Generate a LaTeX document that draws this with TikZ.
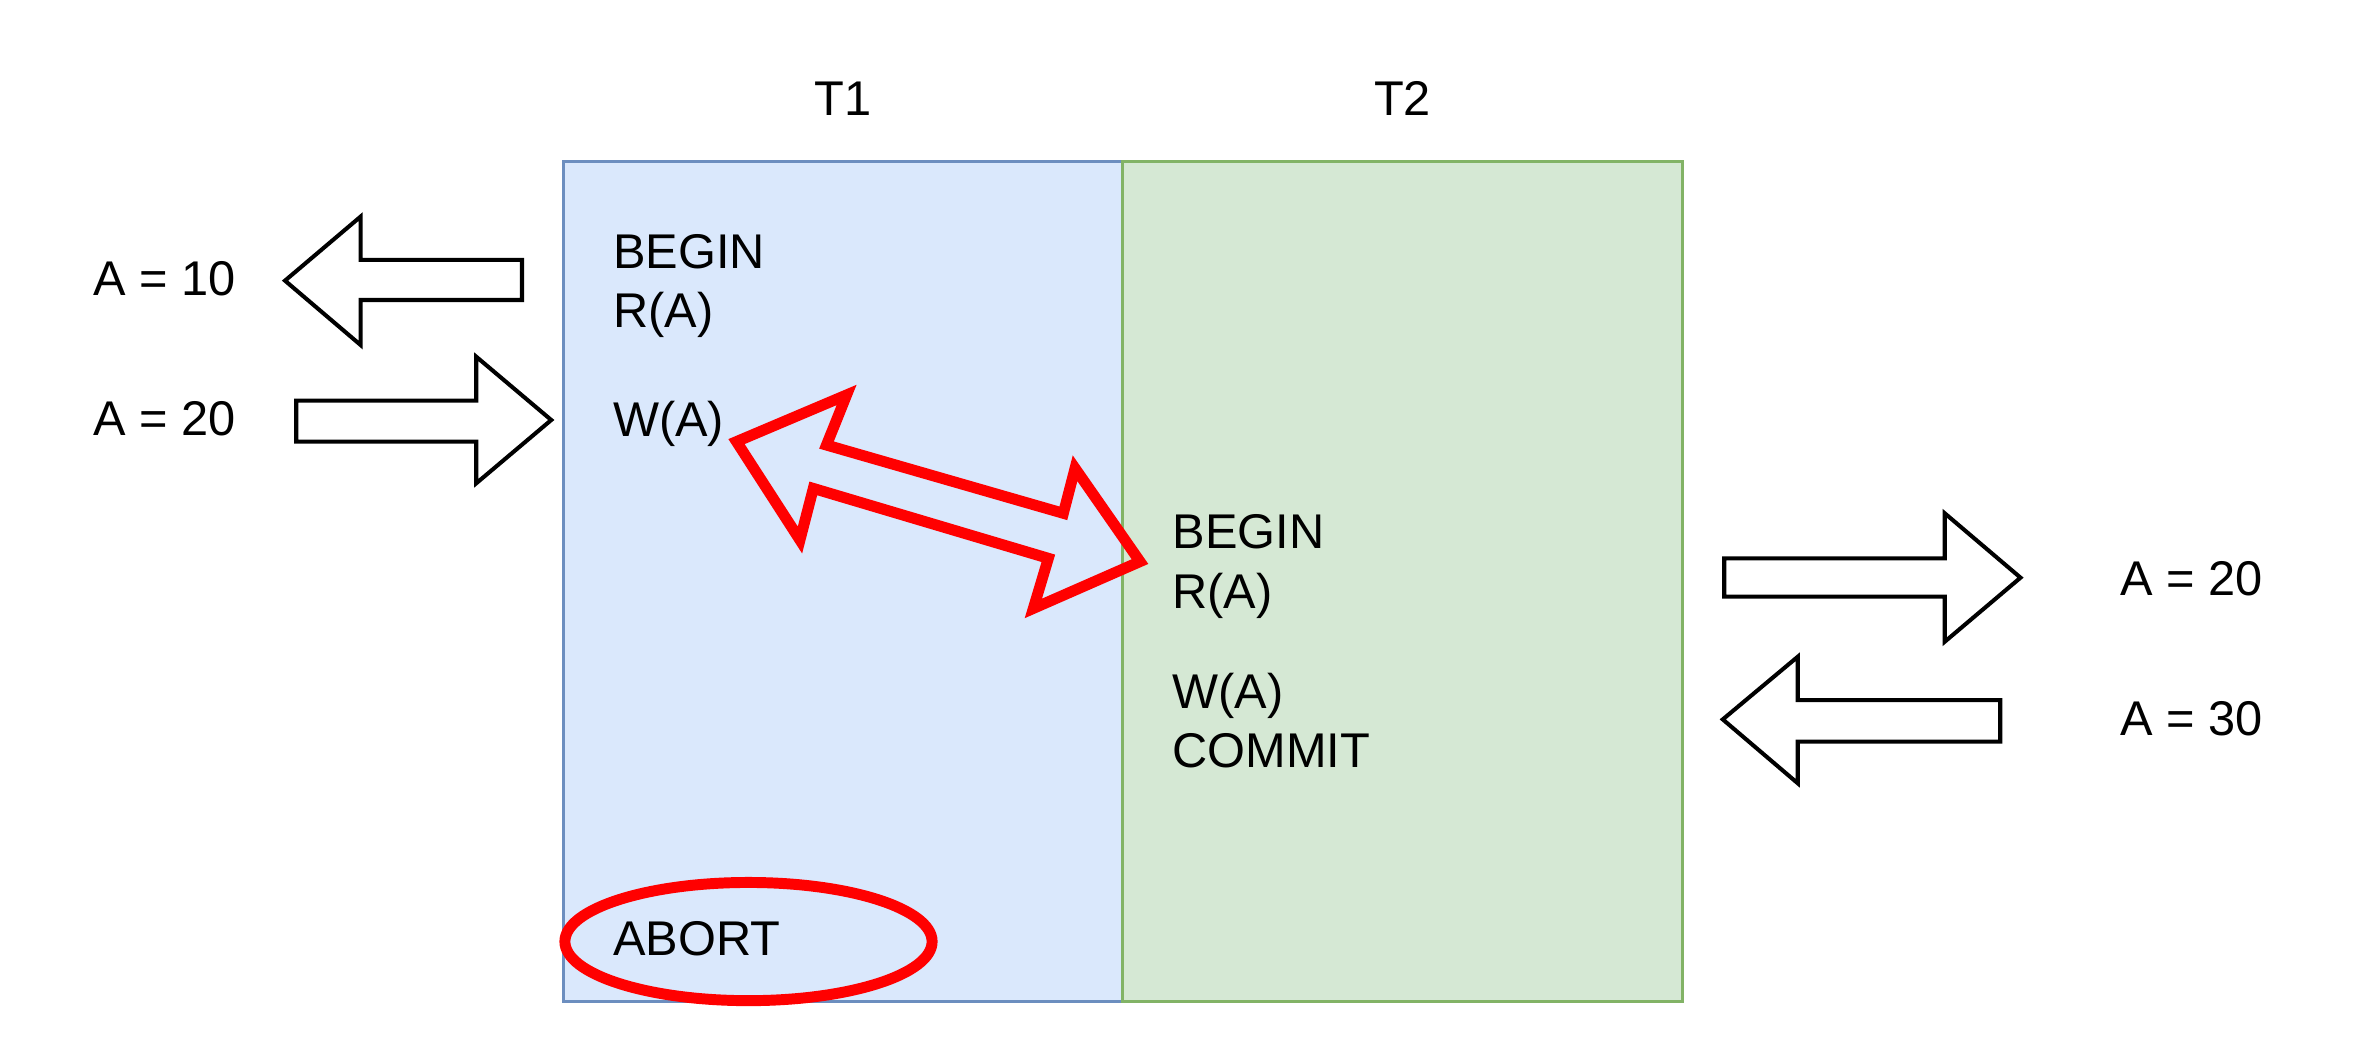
\documentclass[tikz,border=0pt]{standalone}
\usepackage{fontspec}
\setmainfont{Liberation Sans}
\definecolor{tonefill}{HTML}{DAE8FC}
\definecolor{onestroke}{HTML}{6C8EBF}
\definecolor{twofill}{HTML}{D5E8D4}
\definecolor{twostroke}{HTML}{82B366}
\definecolor{alarm}{HTML}{FF0000}
\tikzset{
  lbl/.style={inner sep=0pt, anchor=base west, font=\fontsize{32.5}{39}\selectfont},
  ttl/.style={inner sep=0pt, anchor=base, font=\fontsize{32.5}{39}\selectfont},
  blockarrow/.style={draw=black, fill=white, line width=2.7pt, line join=miter},
  redmark/.style={draw=alarm, line width=7.3pt, line join=miter}
}
\begin{document}
\begin{tikzpicture}[x=1pt,y=-1pt]
\useasboundingbox (0,0) rectangle (1570.67,698.67);
% transaction columns
\draw[fill=tonefill, draw=onestroke, line width=2.2pt] (375.5,107.8) rectangle (748.5,667.8);
\draw[fill=twofill, draw=twostroke, line width=2.2pt] (748.5,107.8) rectangle (1121.5,667.8);
\node[ttl] (t1) at (562,77.3) {T1};
\node[ttl] (t2) at (935,77.3) {T2};
% T1 operations
\node[lbl] (b1) at (408.5,178.9) {BEGIN};
\node[lbl] (r1) at (408.5,218.4) {R(A)};
\node[lbl] (w1) at (408.5,290.7) {W(A)};
% T2 operations
\node[lbl] (b2) at (781.5,365.6) {BEGIN};
\node[lbl] (r2) at (781.5,405.6) {R(A)};
\node[lbl] (w2) at (781.5,472.2) {W(A)};
\node[lbl] (c2) at (781.5,511.6) {COMMIT};
% abort with red ellipse
\draw[redmark] (499,627.7) ellipse [x radius=122.4pt, y radius=39.4pt];
\node[lbl] (ab) at (408.5,637.3) {ABORT};
% red double arrow
\draw[redmark] (491,294.4) -- (564.4,263.3) -- (551,296.7) -- (708.9,342.2) -- (716.7,312.2)
  -- (760,374.4) -- (688.9,405.6) -- (698.9,372.2) -- (542.2,325.6) -- (533.3,360) -- cycle;
% left side block arrows
\draw[blockarrow] (190,187.1) -- (240.4,144.4) -- (240.4,173.3) -- (348,173.3) -- (348,200)
  -- (240.4,200) -- (240.4,230) -- cycle;
\draw[blockarrow] (197.5,267.1) -- (317.5,267.1) -- (317.5,237.8) -- (367.5,280) -- (317.5,322.2)
  -- (317.5,294.4) -- (197.5,294.4) -- cycle;
\node[lbl] (v10) at (62,197.1) {A = 10};
\node[lbl] (v20a) at (62,290.4) {A = 20};
% right side block arrows
\draw[blockarrow] (1149.5,372.2) -- (1296.5,372.2) -- (1296.5,342.2) -- (1347,385.1) -- (1296.5,427.8)
  -- (1296.5,397.8) -- (1149.5,397.8) -- cycle;
\draw[blockarrow] (1148.5,479.6) -- (1198.5,437.8) -- (1198.5,466.7) -- (1333.5,466.7) -- (1333.5,494.4)
  -- (1198.5,494.4) -- (1198.5,522.2) -- cycle;
\node[lbl] (v20b) at (1413.5,396.7) {A = 20};
\node[lbl] (v30) at (1413.5,490) {A = 30};
\end{tikzpicture}
\end{document}
